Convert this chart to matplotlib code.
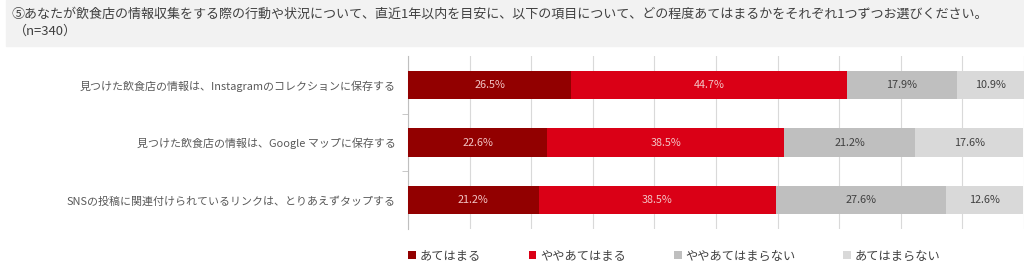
import matplotlib.pyplot as plt
import numpy as np

plt.rcParams['font.family'] = ['Noto Sans CJK JP', 'DejaVu Sans']

items = [
    "見つけた飲食店の情報は、Instagramのコレクションに保存する",
    "見つけた飲食店の情報は、Google マップに保存する",
    "SNSの投稿に関連付けられているリンクは、とりあえずタップする",
]
series_names = ["あてはまる", "ややあてはまる", "ややあてはまらない", "あてはまらない"]
atehamaru = [26.5, 22.6, 21.2]
yaya_atehamaru = [44.7, 38.5, 38.5]
yaya_atehamaranai = [17.9, 21.2, 27.6]
atehamaranai = [10.9, 17.6, 12.6]

colores = ['#920000', '#DA0016', '#BFBFBF', '#D9D9D9']
color_texto = ['#F2C4C4', '#F2C4C4', '#404040', '#404040']

fig = plt.figure(figsize=(10.24, 2.76), dpi=100)

# banda gris del encabezado
fig.patches.append(plt.Rectangle((6/1024, 1 - 46/276), 1 - 6/1024, 46/276,
                                 transform=fig.transFigure, color='#F2F2F2', zorder=0))
fig.text(12/1024, 1 - 14/276,
         "⑤あなたが飲食店の情報収集をする際の行動や状況について、直近1年以内を目安に、以下の項目について、どの程度あてはまるかをそれぞれ1つずつお選びください。",
         fontsize=9.4, color='#404040', va='center', ha='left')
fig.text(14/1024, 1 - 31/276, "（n=340）", fontsize=9.4, color='#404040', va='center', ha='left')

ax = fig.add_axes([408/1024, 47/276, 616/1024, 173/276])

datos = [atehamaru, yaya_atehamaru, yaya_atehamaranai, atehamaranai]
y = np.arange(len(items))
izq = np.zeros(len(items))
for k, valores in enumerate(datos):
    valores = np.array(valores)
    ax.barh(y, valores, left=izq, height=0.49, color=colores[k],
            label=series_names[k], zorder=3)
    for i, v in enumerate(valores):
        ax.text(izq[i] + v / 2, y[i], f"{v:.1f}%", ha='center', va='center',
                fontsize=7.8, color=color_texto[k], zorder=4)
    izq = izq + valores

ax.set_xlim(0, 100)
ax.set_ylim(len(items) - 0.5, -0.5)
ax.set_xticks(np.arange(0, 101, 10))
ax.xaxis.grid(True, color='#D9D9D9', linewidth=0.8, zorder=0)
ax.tick_params(axis='x', length=0, labelbottom=False)
ax.set_yticks(y)
ax.set_yticklabels(items, fontsize=7.9, color='#595959')
ax.set_yticks([0.5, 1.5], minor=True)
ax.tick_params(axis='y', which='major', length=0, pad=9)
ax.tick_params(axis='y', which='minor', length=4, color='#BFBFBF')
for s in ['top', 'right', 'bottom']:
    ax.spines[s].set_visible(False)
ax.spines['left'].set_color('#BFBFBF')

fig.legend(loc='center left', bbox_to_anchor=(397/1024, 1 - 256/276), ncol=4,
           frameon=False, fontsize=8.8, handlelength=0.65, handleheight=0.65,
           handletextpad=0.3, columnspacing=3.9, labelcolor='#404040')

plt.savefig('out.png', dpi=100)
